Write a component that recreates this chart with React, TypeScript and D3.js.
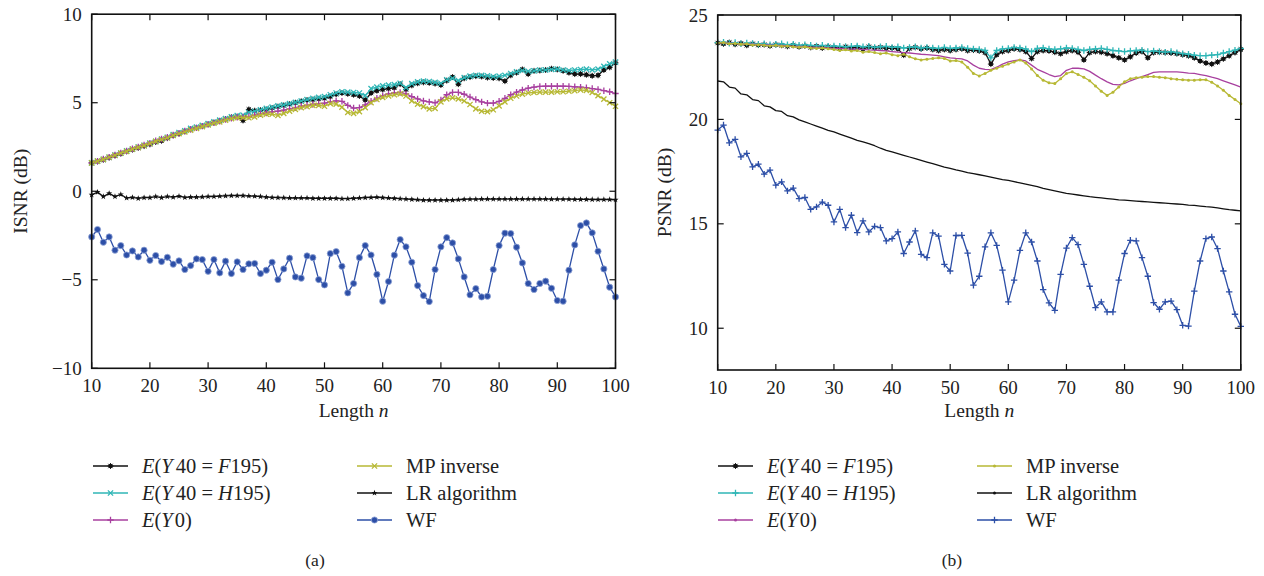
import React from 'react';
import * as d3 from 'd3';

// ---------- data ----------
const lengths = d3.range(10, 101); // n = 10..100
const xTicks = [10, 20, 30, 40, 50, 60, 70, 80, 90, 100];
const isnrTicks = [-10, -5, 0, 5, 10];
const psnrTicks = [10, 15, 20, 25];

// (a) ISNR
const isnrF195 = [
  1.60, 1.68, 1.78, 1.90, 2.02, 2.12, 2.25, 2.35, 2.45, 2.55,
  2.65, 2.78, 2.85, 3.00, 3.15, 3.25, 3.38, 3.50, 3.58, 3.68,
  3.78, 3.88, 3.98, 4.08, 4.18, 4.22, 4.00, 4.62, 4.55, 4.58,
  4.62, 4.70, 4.78, 4.85, 4.92, 5.00, 5.08, 5.15, 5.18, 5.22,
  5.25, 5.35, 5.48, 5.55, 5.50, 5.45, 5.38, 5.15, 5.55, 5.68,
  5.75, 5.80, 5.85, 6.05, 5.75, 5.98, 6.10, 6.15, 6.12, 6.08,
  6.00, 6.25, 6.45, 6.05, 6.38, 6.45, 6.50, 6.48, 6.42, 6.40,
  6.38, 6.22, 6.55, 6.70, 6.88, 6.62, 6.80, 6.82, 6.85, 6.92,
  6.88, 6.80, 6.70, 6.62, 6.62, 6.58, 6.52, 6.55, 6.85, 7.00,
  7.25,
];
const isnrH195 = [
  1.60, 1.70, 1.80, 1.92, 2.05, 2.15, 2.28, 2.38, 2.50, 2.60,
  2.72, 2.82, 2.95, 3.05, 3.20, 3.32, 3.42, 3.55, 3.62, 3.72,
  3.82, 3.92, 4.02, 4.10, 4.20, 4.28, 4.30, 4.45, 4.52, 4.60,
  4.68, 4.75, 4.82, 4.88, 4.95, 5.02, 5.10, 5.18, 5.25, 5.30,
  5.35, 5.45, 5.55, 5.62, 5.60, 5.58, 5.55, 5.40, 5.80, 5.88,
  5.95, 6.00, 6.02, 6.10, 5.85, 6.08, 6.18, 6.22, 6.20, 6.15,
  6.10, 6.30, 6.38, 6.25, 6.42, 6.50, 6.55, 6.55, 6.52, 6.48,
  6.50, 6.55, 6.65, 6.75, 6.82, 6.78, 6.80, 6.85, 6.85, 6.88,
  6.90, 6.85, 6.82, 6.85, 6.88, 6.90, 6.85, 6.90, 7.05, 7.20,
  7.30,
];
const isnrY0 = [
  1.60, 1.70, 1.82, 1.93, 2.05, 2.17, 2.28, 2.40, 2.50, 2.62,
  2.72, 2.85, 2.95, 3.05, 3.18, 3.28, 3.40, 3.50, 3.58, 3.68,
  3.78, 3.86, 3.95, 4.05, 4.12, 4.18, 4.20, 4.22, 4.30, 4.38,
  4.42, 4.48, 4.52, 4.58, 4.65, 4.72, 4.80, 4.85, 4.90, 4.95,
  4.98, 5.05, 5.10, 5.08, 4.85, 4.70, 4.72, 4.88, 5.08, 5.25,
  5.40, 5.50, 5.55, 5.58, 5.50, 5.35, 5.22, 5.10, 5.05, 5.00,
  5.15, 5.45, 5.58, 5.58, 5.48, 5.32, 5.18, 5.05, 4.98, 4.98,
  5.08, 5.25, 5.45, 5.60, 5.72, 5.82, 5.88, 5.92, 5.93, 5.93,
  5.93, 5.93, 5.92, 5.90, 5.88, 5.85, 5.80, 5.75, 5.68, 5.62,
  5.52,
];
const isnrMP = [
  1.60, 1.70, 1.80, 1.92, 2.03, 2.15, 2.25, 2.38, 2.48, 2.58,
  2.70, 2.82, 2.92, 3.02, 3.15, 3.25, 3.35, 3.45, 3.55, 3.65,
  3.75, 3.85, 3.92, 4.02, 4.10, 4.15, 4.15, 4.15, 4.20, 4.30,
  4.35, 4.35, 4.28, 4.40, 4.52, 4.62, 4.72, 4.78, 4.85, 4.85,
  4.80, 4.95, 4.92, 4.75, 4.45, 4.40, 4.50, 4.72, 5.00, 5.18,
  5.30, 5.38, 5.45, 5.50, 5.38, 5.10, 4.92, 4.78, 4.65, 4.68,
  5.05, 5.22, 5.28, 5.22, 5.10, 4.90, 4.65, 4.52, 4.50, 4.60,
  4.82, 5.05, 5.25, 5.38, 5.48, 5.55, 5.58, 5.60, 5.60, 5.60,
  5.62, 5.62, 5.65, 5.68, 5.72, 5.70, 5.58, 5.40, 5.20, 5.00,
  4.80,
];
const isnrLR = [
  -0.20, -0.05, -0.30, -0.12, -0.30, -0.18, -0.38, -0.35, -0.40, -0.36,
  -0.36, -0.30, -0.36, -0.30, -0.33, -0.28, -0.35, -0.33, -0.33, -0.32,
  -0.30, -0.30, -0.28, -0.26, -0.25, -0.25, -0.25, -0.27, -0.28, -0.30,
  -0.33, -0.35, -0.36, -0.37, -0.38, -0.38, -0.38, -0.38, -0.40, -0.40,
  -0.40, -0.40, -0.40, -0.42, -0.42, -0.40, -0.38, -0.36, -0.35, -0.34,
  -0.36, -0.38, -0.40, -0.42, -0.44, -0.46, -0.48, -0.50, -0.50, -0.50,
  -0.50, -0.50, -0.50, -0.48, -0.46, -0.45, -0.45, -0.44, -0.44, -0.44,
  -0.44, -0.44, -0.44, -0.44, -0.44, -0.44, -0.44, -0.44, -0.44, -0.45,
  -0.45, -0.45, -0.45, -0.46, -0.46, -0.46, -0.47, -0.47, -0.47, -0.47,
  -0.48,
];
const isnrWF = [
  -2.58, -2.16, -2.88, -2.58, -3.33, -3.07, -3.60, -3.37, -3.71, -3.33,
  -3.90, -3.63, -3.97, -3.73, -4.12, -3.93, -4.42, -4.20, -3.82, -3.86,
  -4.52, -3.86, -4.61, -3.95, -4.65, -3.99, -4.42, -4.10, -4.08, -4.65,
  -4.46, -4.01, -4.99, -4.39, -3.78, -4.84, -4.91, -3.65, -3.75, -4.99,
  -5.29, -3.52, -3.41, -4.24, -5.74, -5.21, -3.75, -3.07, -3.60, -4.70,
  -6.21, -5.10, -3.61, -2.73, -3.14, -4.01, -5.33, -5.89, -6.23, -4.42,
  -3.14, -2.62, -2.92, -3.82, -4.84, -5.85, -5.50, -5.97, -5.93, -4.42,
  -3.07, -2.37, -2.39, -3.16, -4.05, -5.21, -5.55, -5.21, -5.08, -5.48,
  -6.17, -6.21, -4.46, -3.03, -1.94, -1.79, -2.35, -3.39, -4.39, -5.42,
  -5.97,
];

// (b) PSNR
const psnrF195 = [
  23.66, 23.62, 23.68, 23.60, 23.64, 23.55, 23.62, 23.56, 23.58, 23.52,
  23.58, 23.55, 23.50, 23.55, 23.48, 23.52, 23.45, 23.50, 23.42, 23.48,
  23.45, 23.40, 23.48, 23.42, 23.45, 23.38, 23.48, 23.42, 23.45, 23.40,
  23.42, 23.38, 23.08, 23.40, 23.45, 23.38, 23.42, 23.35, 23.30, 23.35,
  23.30, 23.35, 23.38, 23.30, 23.32, 23.28, 23.20, 22.65, 23.10, 23.25,
  23.30, 23.38, 23.35, 23.25, 22.92, 23.25, 23.30, 23.28, 23.22, 23.15,
  23.25, 23.30, 23.22, 22.85, 23.20, 23.25, 23.22, 23.15, 23.05, 22.95,
  22.85, 23.00, 23.18, 23.25, 22.95, 23.20, 23.22, 23.20, 23.18, 23.15,
  23.10, 23.05, 22.95, 22.80, 22.70, 22.65, 22.75, 22.90, 23.05, 23.20,
  23.35,
];
const psnrH195 = [
  23.68, 23.70, 23.65, 23.68, 23.62, 23.66, 23.64, 23.60, 23.62, 23.58,
  23.60, 23.62, 23.58, 23.60, 23.55, 23.58, 23.55, 23.52, 23.55, 23.50,
  23.52, 23.50, 23.48, 23.50, 23.52, 23.48, 23.50, 23.45, 23.48, 23.50,
  23.45, 23.48, 23.42, 23.45, 23.48, 23.42, 23.45, 23.42, 23.40, 23.45,
  23.40, 23.42, 23.45, 23.40, 23.38, 23.35, 23.30, 22.95, 23.30, 23.38,
  23.40, 23.45, 23.42, 23.38, 23.25, 23.40, 23.42, 23.38, 23.35, 23.38,
  23.42, 23.40, 23.35, 23.30, 23.35, 23.38, 23.40, 23.35, 23.30, 23.28,
  23.25, 23.28, 23.30, 23.32, 23.25, 23.28, 23.25, 23.22, 23.25, 23.20,
  23.15, 23.12, 23.08, 23.05, 23.05, 23.08, 23.10, 23.18, 23.25, 23.32,
  23.40,
];
const psnrY0 = [
  23.68, 23.66, 23.65, 23.63, 23.62, 23.60, 23.60, 23.58, 23.57, 23.56,
  23.55, 23.54, 23.52, 23.50, 23.50, 23.48, 23.46, 23.45, 23.44, 23.42,
  23.40, 23.40, 23.38, 23.37, 23.36, 23.35, 23.33, 23.32, 23.30, 23.28,
  23.25, 23.22, 23.20, 23.18, 23.15, 23.12, 23.10, 23.08, 23.05, 23.00,
  22.95, 22.92, 22.90, 22.80, 22.60, 22.45, 22.40, 22.38, 22.50, 22.65,
  22.75, 22.82, 22.85, 22.80, 22.60, 22.40, 22.28, 22.15, 22.05, 22.10,
  22.35, 22.45, 22.45, 22.42, 22.30, 22.12, 21.95, 21.80, 21.68, 21.65,
  21.72, 21.85, 21.95, 22.05, 22.15, 22.25, 22.28, 22.28, 22.28, 22.28,
  22.25, 22.22, 22.20, 22.15, 22.10, 22.02, 21.95, 21.85, 21.75, 21.65,
  21.55,
];
const psnrMP = [
  23.66, 23.68, 23.62, 23.64, 23.60, 23.62, 23.56, 23.58, 23.55, 23.52,
  23.55, 23.50, 23.52, 23.48, 23.45, 23.48, 23.42, 23.40, 23.42, 23.38,
  23.35, 23.30, 23.33, 23.28, 23.30, 23.22, 23.25, 23.20, 23.15, 23.18,
  23.10, 23.05, 23.12, 23.00, 22.90, 22.85, 22.88, 22.92, 22.95, 22.92,
  22.80, 22.82, 22.75, 22.50, 22.20, 22.08, 22.20, 22.35, 22.45, 22.55,
  22.65, 22.75, 22.85, 22.70, 22.42, 22.10, 21.88, 21.75, 21.72, 21.95,
  22.20, 22.28, 22.15, 22.02, 21.85, 21.60, 21.35, 21.15, 21.30, 21.55,
  21.80, 21.95, 22.00, 22.02, 22.05, 22.05, 22.02, 22.00, 21.95, 21.92,
  21.90, 21.88, 21.88, 21.90, 21.90, 21.78, 21.60, 21.40, 21.15, 20.95,
  20.75,
];
const psnrLR = [
  21.84, 21.80, 21.55, 21.50, 21.22, 21.18, 20.95, 20.90, 20.65, 20.60,
  20.42, 20.38, 20.18, 20.12, 19.98, 19.88, 19.78, 19.68, 19.58, 19.48,
  19.40, 19.30, 19.20, 19.10, 19.00, 18.92, 18.84, 18.74, 18.62, 18.52,
  18.44, 18.36, 18.28, 18.20, 18.12, 18.04, 17.96, 17.88, 17.80, 17.72,
  17.65, 17.58, 17.52, 17.45, 17.40, 17.35, 17.30, 17.24, 17.18, 17.12,
  17.08, 17.02, 16.96, 16.90, 16.84, 16.78, 16.70, 16.64, 16.58, 16.52,
  16.46, 16.42, 16.38, 16.34, 16.30, 16.27, 16.24, 16.21, 16.18, 16.15,
  16.13, 16.11, 16.09, 16.07, 16.05, 16.03, 16.01, 15.99, 15.97, 15.95,
  15.93, 15.90, 15.88, 15.85, 15.82, 15.80, 15.76, 15.72, 15.68, 15.65,
  15.62,
];
const psnrWF = [
  19.49, 19.73, 18.88, 19.04, 18.21, 18.37, 17.73, 17.86, 17.38, 17.57,
  16.85, 17.01, 16.58, 16.71, 16.21, 16.26, 15.69, 15.81, 16.04, 15.89,
  15.09, 15.69, 14.82, 15.41, 14.58, 15.14, 14.61, 14.88, 14.82, 14.18,
  14.29, 14.61, 13.58, 14.13, 14.66, 13.54, 13.38, 14.57, 14.41, 13.06,
  12.74, 14.44, 14.45, 13.60, 12.06, 12.49, 13.90, 14.57, 13.97, 12.78,
  11.26, 12.30, 13.73, 14.57, 14.13, 13.22, 11.85, 11.21, 10.86, 12.58,
  13.84, 14.34, 14.00, 13.06, 12.01, 10.99, 11.26, 10.78, 10.78, 12.30,
  13.58, 14.21, 14.18, 13.38, 12.49, 11.23, 10.91, 11.26, 11.30, 10.89,
  10.14, 10.10, 11.78, 13.22, 14.29, 14.37, 13.81, 12.74, 11.74, 10.67,
  10.09,
];

// ---------- styling ----------
const C_BLACK = '#111111';
const C_CYAN = '#2fb6b6';
const C_MAGENTA = '#a8409f';
const C_YELLOW = '#b7b834';
const C_BLUE = '#2d4fa7';
const FONT = '"Liberation Serif", "Times New Roman", serif';

type MarkerKind = 'dot' | 'x' | 'plus' | 'star' | 'wf' | 'small' | 'none';

function Marker({ kind, x, y, color }: { kind: MarkerKind; x: number; y: number; color: string }) {
  const s = 2.6;
  switch (kind) {
    case 'dot':
      return (
        <g>
          <circle cx={x} cy={y} r={2.2} fill={color} />
          <path d={`M${x - 3},${y}H${x + 3}M${x},${y - 3}V${y + 3}M${x - 2.2},${y - 2.2}L${x + 2.2},${y + 2.2}M${x - 2.2},${y + 2.2}L${x + 2.2},${y - 2.2}`} stroke={color} strokeWidth={0.9} />
        </g>
      );
    case 'x':
      return <path d={`M${x - s},${y - s}L${x + s},${y + s}M${x - s},${y + s}L${x + s},${y - s}`} stroke={color} strokeWidth={1.3} />;
    case 'plus':
      return <path d={`M${x - 3.2},${y}H${x + 3.2}M${x},${y - 3.2}V${y + 3.2}`} stroke={color} strokeWidth={1.3} />;
    case 'star': {
      const pts = d3.range(10).map((i) => {
        const a = -Math.PI / 2 + (i * Math.PI) / 5;
        const r = i % 2 === 0 ? 3.2 : 1.3;
        return [x + r * Math.cos(a), y + r * Math.sin(a)];
      });
      return <polygon points={pts.map((p) => p.join(',')).join(' ')} fill={color} />;
    }
    case 'wf':
      return <circle cx={x} cy={y} r={3.1} fill={color} stroke="#8fa3d6" strokeWidth={0.8} />;
    case 'small':
      return <circle cx={x} cy={y} r={1.5} fill={color} />;
    default:
      return null;
  }
}

type Series = { label: React.ReactNode; color: string; data: number[]; marker: MarkerKind; width?: number };

const lblF = (
  <>
    <tspan fontStyle="italic">E</tspan>(<tspan fontStyle="italic">Y</tspan><tspan dx={3}>40 = </tspan><tspan fontStyle="italic">F</tspan>195)
  </>
);
const lblH = (
  <>
    <tspan fontStyle="italic">E</tspan>(<tspan fontStyle="italic">Y</tspan><tspan dx={3}>40 = </tspan><tspan fontStyle="italic">H</tspan>195)
  </>
);
const lblY0 = (
  <>
    <tspan fontStyle="italic">E</tspan>(<tspan fontStyle="italic">Y</tspan><tspan dx={2}>0)</tspan>
  </>
);

const seriesA: Series[] = [
  { label: lblF, color: C_BLACK, data: isnrF195, marker: 'dot' },
  { label: lblH, color: C_CYAN, data: isnrH195, marker: 'x' },
  { label: lblY0, color: C_MAGENTA, data: isnrY0, marker: 'plus' },
  { label: 'MP inverse', color: C_YELLOW, data: isnrMP, marker: 'x' },
  { label: 'LR algorithm', color: C_BLACK, data: isnrLR, marker: 'star' },
  { label: 'WF', color: C_BLUE, data: isnrWF, marker: 'wf' },
];
const seriesB: Series[] = [
  { label: lblF, color: C_BLACK, data: psnrF195, marker: 'dot' },
  { label: lblH, color: C_CYAN, data: psnrH195, marker: 'plus' },
  { label: lblY0, color: C_MAGENTA, data: psnrY0, marker: 'none' },
  { label: 'MP inverse', color: C_YELLOW, data: psnrMP, marker: 'small' },
  { label: 'LR algorithm', color: C_BLACK, data: psnrLR, marker: 'none' },
  { label: 'WF', color: C_BLUE, data: psnrWF, marker: 'plus' },
];

type PanelProps = {
  x0: number; x1: number; yTop: number; yBot: number;
  yDomain: [number, number]; yTicks: number[]; yLabel: string; yLabelX: number;
  series: Series[]; legendX: number; legendX2: number; caption: string; captionX: number;
};

function Panel(p: PanelProps) {
  const x = d3.scaleLinear().domain([10, 100]).range([p.x0, p.x1]);
  const y = d3.scaleLinear().domain(p.yDomain).range([p.yBot, p.yTop]);
  const line = d3.line<number>().x((_, i) => x(lengths[i])).y((d) => y(d));
  const tl = 6;
  const fmt = (v: number) => (v < 0 ? '\u2212' + Math.abs(v) : String(v));
  const midX = (p.x0 + p.x1) / 2;
  const rows = [466, 493, 520];
  return (
    <g fontFamily={FONT} fill="#222">
      <defs>
        <clipPath id={`clip-${p.caption}`}>
          <rect x={p.x0} y={p.yTop} width={p.x1 - p.x0} height={p.yBot - p.yTop} />
        </clipPath>
      </defs>
      <g clipPath={`url(#clip-${p.caption})`}>
        {p.series.map((s, si) => (
          <g key={si}>
            <path d={line(s.data) || ''} fill="none" stroke={s.color} strokeWidth={s.width ?? 1.3} strokeLinejoin="round" />
            {s.data.map((v, i) => (
              <Marker key={i} kind={s.marker} x={x(lengths[i])} y={y(v)} color={s.color} />
            ))}
          </g>
        ))}
      </g>
      <rect x={p.x0} y={p.yTop} width={p.x1 - p.x0} height={p.yBot - p.yTop} fill="none" stroke="#111" strokeWidth={1.6} />
      {xTicks.map((t) => (
        <g key={'x' + t}>
          <line x1={x(t)} x2={x(t)} y1={p.yBot} y2={p.yBot - tl} stroke="#111" strokeWidth={1.2} />
          <line x1={x(t)} x2={x(t)} y1={p.yTop} y2={p.yTop + tl} stroke="#111" strokeWidth={1.2} />
          <text x={x(t)} y={p.yBot + 24} textAnchor="middle" fontSize={19}>{t}</text>
        </g>
      ))}
      {p.yTicks.map((t) => (
        <g key={'y' + t}>
          <line x1={p.x0} x2={p.x0 + tl} y1={y(t)} y2={y(t)} stroke="#111" strokeWidth={1.2} />
          <line x1={p.x1} x2={p.x1 - tl} y1={y(t)} y2={y(t)} stroke="#111" strokeWidth={1.2} />
          <text x={p.x0 - 10} y={y(t)} dy="0.35em" textAnchor="end" fontSize={19}>{fmt(t)}</text>
        </g>
      ))}
      <text x={midX} y={417} textAnchor="middle" fontSize={19.5}>
        Length <tspan fontStyle="italic">n</tspan>
      </text>
      <text transform={`translate(${p.yLabelX},${(p.yTop + p.yBot) / 2}) rotate(-90)`} textAnchor="middle" fontSize={19.5}>
        {p.yLabel}
      </text>
      {p.series.map((s, i) => {
        const col = i < 3 ? 0 : 1;
        const lx = col === 0 ? p.legendX : p.legendX2;
        const ly = rows[i % 3];
        return (
          <g key={'lg' + i}>
            <line x1={lx} x2={lx + 35} y1={ly} y2={ly} stroke={s.color} strokeWidth={1.4} />
            <Marker kind={s.marker === 'none' ? 'small' : s.marker} x={lx + 17.5} y={ly} color={s.color} />
            <text x={lx + 49} y={ly} dy="0.33em" fontSize={20.5}>{s.label}</text>
          </g>
        );
      })}
      <text x={p.captionX} y={566} textAnchor="middle" fontSize={17.5}>{p.caption}</text>
    </g>
  );
}

export default function App() {
  return (
    <svg width={1264} height={576} style={{ position: 'absolute', left: 0, top: 0, background: '#fff' }}>
      <rect width={1264} height={576} fill="#fff" />
      <Panel
        x0={91.7} x1={615.5} yTop={14.2} yBot={368.3}
        yDomain={[-10, 10]} yTicks={isnrTicks} yLabel="ISNR (dB)" yLabelX={27}
        series={seriesA} legendX={93} legendX2={357} caption="(a)" captionX={315}
      />
      <Panel
        x0={717.7} x1={1240.8} yTop={15} yBot={370}
        yDomain={[8, 25]} yTicks={psnrTicks} yLabel="PSNR (dB)" yLabelX={671}
        series={seriesB} legendX={718} legendX2={977} caption="(b)" captionX={952}
      />
    </svg>
  );
}
